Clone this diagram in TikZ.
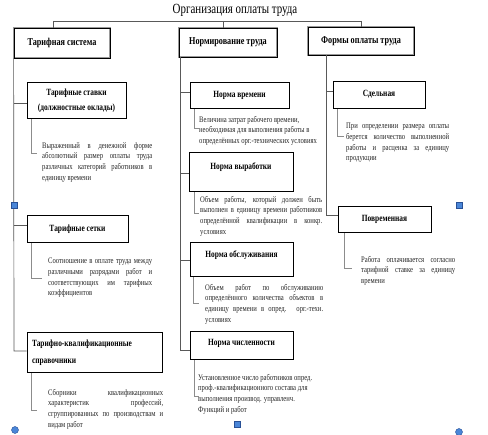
\documentclass[tikz,border=0pt]{standalone}
\usepackage{fontspec}
\setmainfont{Liberation Serif}
\newfontfamily\cond[FakeStretch=0.78]{Liberation Serif}
\definecolor{handleblue}{RGB}{74,134,216}
\definecolor{handleedge}{RGB}{40,80,150}
\begin{document}
\begin{tikzpicture}[x=1pt,y=-1pt,
  topbox/.style={draw=black!40, double=black, double distance=0.7pt, line width=0.8pt,
    fill=white, inner sep=0pt, font=\cond\bfseries\fontsize{10.5}{12}\selectfont},
  subbox/.style={draw=black, line width=1pt, inner sep=0pt,
    font=\cond\bfseries\fontsize{9.5}{12}\selectfont},
  conn/.style={draw=black!65, line width=0.7pt},
  brk/.style={draw=black!45, line width=0.6pt},
  body/.style={inner sep=0pt, anchor=north west, text=black!85,
    font=\cond\fontsize{8.5}{10.7}\selectfont},
  handlesq/.style={draw=handleedge, fill=handleblue, line width=0.4pt,
    minimum size=6pt, inner sep=0pt},
  handlec/.style={circle, draw=handleedge, fill=handleblue, line width=0.4pt,
    minimum size=7pt, inner sep=0pt}
]
\useasboundingbox (0,0) rectangle (488,435);
\fill[white] (0,0) rectangle (488,435);

% title
\node[inner sep=0pt, font=\cond\fontsize{14}{16}\selectfont] (title) at (235,10) {Организация оплаты труда};

% top boxes
\node[topbox, minimum width=96pt, minimum height=30pt] (b1) at (62,43) {Тарифная система};
\node[topbox, minimum width=98pt, minimum height=29pt] (b2) at (228,42.5) {Нормирование труда};
\node[topbox, minimum width=106pt, minimum height=28pt] (b3) at (361,41) {Формы оплаты труда};

% bar
\coordinate (bar1) at (53,21);
\coordinate (bar2) at (223,21);
\coordinate (bar3) at (361,21);
\draw[conn] (bar1) -- (bar3);
\draw[conn] (bar1) -- (bar1 |- b1.north);
\draw[conn] (bar2) -- (bar2 |- b2.north);
\draw[conn] (bar3) -- (bar3 |- b3.north);

% column 1 boxes
\node[subbox, minimum width=99pt, minimum height=36pt, align=center,
  font=\cond\bfseries\fontsize{9.5}{15}\selectfont] (A) at (76.5,101)
  {Тарифные ставки\\(должностные оклады)};
\node[subbox, minimum width=101pt, text height=16pt, text depth=11pt, anchor=base] (B) at (77.5,232) {Тарифные сетки};
\node[subbox, minimum width=135pt, minimum height=40pt, text width=125pt, align=left,
  font=\cond\bfseries\fontsize{9.5}{17}\selectfont] (C) at (94.5,353)
  {Тарифно-квалификационные\\справочники};

% column 2 boxes
\node[subbox, minimum width=99pt, text height=15pt, text depth=11pt, anchor=base] (D) at (239.5,98) {Норма времени};
\node[subbox, minimum width=104pt, text height=17pt, text depth=22pt, anchor=base] (E) at (241,170) {Норма выработки};
\node[subbox, minimum width=103pt, text height=15pt, text depth=19pt, anchor=base] (F) at (241.5,258) {Норма обслуживания};
\node[subbox, minimum width=103pt, text height=14pt, text depth=14pt, anchor=base] (G) at (241.5,346) {Норма численности};

% column 3 boxes
\node[subbox, minimum width=92pt, text height=15pt, text depth=12pt, anchor=base] (H) at (379,97) {Сдельная};
\node[subbox, minimum width=93pt, text height=15pt, text depth=11pt, anchor=base] (I) at (384.5,222) {Повременная};

% column 1 connectors
\coordinate (jA) at (14,103);
\coordinate (jB) at (14,225);
\coordinate (jC) at (14,351);
\draw[conn] (b1.south west) -- (jC) -- (jC -| C.west);
\draw[conn] (jA) -- (jA -| A.west);
\draw[conn] (jB) -- (jB -| B.west);

% column 2 connectors
\coordinate (kT) at (180,57);
\coordinate (kD) at (180,92);
\coordinate (kE) at (180,173);
\coordinate (kF) at (180,260);
\coordinate (kG) at (180,350);
\draw[conn] (kT |- b2.south) -- (kG) -- (kG -| G.west);
\draw[conn] (kD) -- (kD -| D.west);
\draw[conn] (kE) -- (kE -| E.west);
\draw[conn] (kF) -- (kF -| F.west);

% column 3 connectors
\coordinate (mH) at (326,91);
\coordinate (mI) at (326,215);
\draw[conn] (mH |- b3.south) -- (mI) -- (mI -| I.west);
\draw[conn] (mH) -- (mH -| H.west);

% brackets
\draw[brk] ([xshift=5pt]A.south west) -- ++(0,34) -- ++(5,0);
\draw[brk] ([xshift=5pt]B.south west) -- ++(0,35) -- ++(10,0);
\draw[brk] ([xshift=5pt]C.south west) -- ++(0,37) -- ++(5,0);
\draw[brk] ([xshift=5pt]D.south west) -- ++(0,19) -- ++(4,0);
\draw[brk] ([xshift=6pt]E.south west) -- ++(0,21) -- ++(4,0);
\draw[brk] ([xshift=4pt]F.south west) -- ++(0,26) -- ++(5,0);
\draw[brk] ([xshift=5pt]G.south west) -- ++(0,36) -- ++(4,0);
\draw[brk] ([xshift=5pt]H.south west) -- ++(0,27) -- ++(6,0);
\draw[brk] ([xshift=7pt]I.south west) -- ++(0,35) -- ++(7,0);

% body texts
\node[body, text width=110pt, align=justify] (tA) at (42,142)
  {Выраженный в денежной форме\linebreak абсолютный размер оплаты труда\linebreak различных категорий работников в\linebreak единицу времени};
\node[body, text width=104pt, align=justify] (tB) at (48,258)
  {Соотношение в оплате труда между\linebreak различными разрядами работ и\linebreak соответствующих им тарифных\linebreak коэффициентов};
\node[body, text width=115pt, align=justify] (tC) at (48,389)
  {Сборники квалификационных\linebreak характеристик профессий,\linebreak сгруппированных по производствам и\linebreak видам работ};
\node[body, align=left] (tD) at (199,116)
  {Величина затрат рабочего времени,\\необходимая для выполнения работы в\\определённых орг.-технических условиях};
\node[body, text width=122pt, align=justify] (tE) at (200,196)
  {Объем работы, который должен быть\linebreak выполнен в единицу времени работников\linebreak определённой квалификации в конкр.\linebreak условиях};
\node[body, text width=118pt, align=justify] (tF) at (205,284)
  {Объем работ по обслуживанию\linebreak определённого количества объектов в\linebreak единицу времени в опред. орг.-техн.\linebreak условиях};
\node[body, align=left] (tG) at (198,374)
  {Установленное число работников опред.\\проф.-квалификационного состава для\\выполнения производ. управленч.\\Функций и работ};
\node[body, text width=103pt, align=justify] (tH) at (346,123)
  {При определении размера оплаты\linebreak берется количество выполненной\linebreak работы и расценка за единицу\linebreak продукции};
\node[body, text width=94pt, align=justify] (tI) at (361,256)
  {Работа оплачивается согласно\linebreak тарифной ставке за единицу\linebreak времени};

% selection handles
\node[handlesq] (h1) at (14,205) {};
\node[handlesq] (h2) at (459,205) {};
\node[handlesq] (h3) at (237,424) {};
\node[handlec] (h4) at (15,430) {};
\node[handlec] (h5) at (459,432) {};
\end{tikzpicture}
\end{document}
